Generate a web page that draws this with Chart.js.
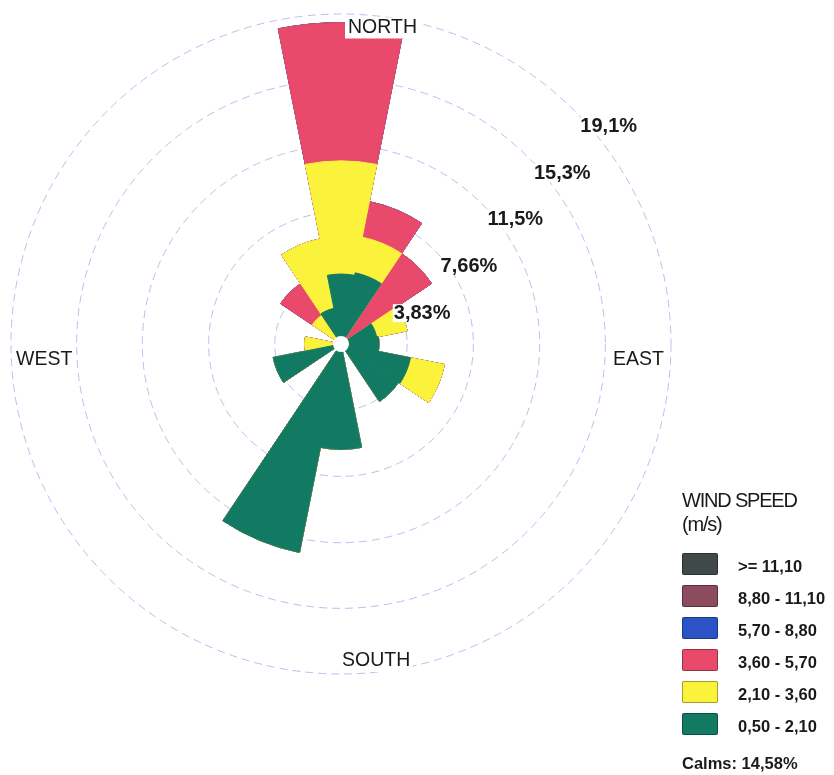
<!DOCTYPE html>
<html>
<head>
<meta charset="utf-8">
<script src="https://cdn.jsdelivr.net/npm/chart.js@4/dist/chart.umd.min.js"></script>
<style>
  html, body { margin: 0; padding: 0; background: #fff; }
  #wrap { position: relative; width: 834px; height: 775px; overflow: hidden; }
  #c { position: absolute; left: 0; top: 0; }
  .lg { position: absolute; font-family: "Liberation Sans", Arial, sans-serif; color: #1a1a1a; white-space: nowrap; }
  .title { font-size: 20px; line-height: 20px; letter-spacing: -1.2px; }
  .item { font-size: 16.5px; line-height: 16.5px; font-weight: bold; }
  .box { position: absolute; width: 34px; height: 20px; border: 1px solid rgba(0,0,0,0.35); border-radius: 2px; }
</style>
</head>
<body>
<div id="wrap">
  <canvas id="c" width="834" height="775"></canvas>
  <div id="legend"></div>
</div>
<script>
// ---- data (percent of time) ----
const directions = ['N','NNE','NE','ENE','E','ESE','SE','SSE','S','SSW','SW','WSW','W','WNW','NW','NNW'];
const speed_050_210 = [4.05, 4.2, 0, 2.1, 2.2, 4.1, 4.0, 0, 6.1, 12.3, 0, 4.0, 0.3, 0, 0.3, 2.1];
const speed_210_360 = [6.55, 2.1, 0, 1.8, 0, 2.0, 0, 0, 0, 0, 0, 0, 1.8, 0, 1.7, 4.1];
const speed_360_570 = [8.0, 2.1, 6.3, 0, 0, 0, 0, 0, 0, 0, 0, 0, 0, 0, 2.2, 0];
const speed_570_880 = [0, 0, 0, 0, 0, 0, 0, 0, 0, 0, 0, 0, 0, 0, 0, 0];
const speed_880_1110 = [0, 0, 0, 0, 0, 0, 0, 0, 0, 0, 0, 0, 0, 0, 0, 0];
const speed_ge_1110 = [0, 0, 0, 0, 0, 0, 0, 0, 0, 0, 0, 0, 0, 0, 0, 0];
const classLabels = ['0,50 - 2,10', '2,10 - 3,60', '3,60 - 5,70', '5,70 - 8,80', '8,80 - 11,10', '>= 11,10'];
const classColors = ['#127a62', '#fbf23c', '#e9496b', '#2b53c6', '#8c4b5e', '#3f4947'];
const ringValues = [3.83, 7.66, 11.5, 15.3, 19.1];
const ringLabels = ['3,83%', '7,66%', '11,5%', '15,3%', '19,1%'];
const compassLabels = ['NORTH', 'EAST', 'SOUTH', 'WEST'];
const legendTitle = ['WIND SPEED', '(m/s)'];
const calmsText = 'Calms: 14,58%';

// ---- build stacked (cumulative) datasets, low speed on top ----
const classSeries = [speed_050_210, speed_210_360, speed_360_570, speed_570_880, speed_880_1110, speed_ge_1110];
const cumulative = [];
classSeries.forEach((arr, k) => {
  cumulative.push(arr.map((v, i) => (k === 0 ? 0 : cumulative[k - 1][i]) + v));
});
const datasets = [];
for (let k = classSeries.length - 1; k >= 0; k--) {
  datasets.push({
    label: classLabels[k],
    data: cumulative[k],
    backgroundColor: classColors[k],
    borderColor: classColors[k],
    borderWidth: 1,
    order: k
  });
}

const FONT = '"Liberation Sans", Arial, sans-serif';

const rosePlugin = {
  id: 'roseLabels',
  afterDatasetsDraw(chart) {
    const s = chart.scales.r;
    const ctx = chart.ctx;
    const cx = s.xCenter, cy = s.yCenter;
    ctx.save();
    // calm hole
    ctx.fillStyle = '#fff';
    ctx.beginPath();
    ctx.arc(cx, cy, 8, 0, Math.PI * 2);
    ctx.fill();
    // ring labels along the NE diagonal
    ctx.font = 'bold 20px ' + FONT;
    ctx.textBaseline = 'middle';
    ctx.textAlign = 'left';
    ringValues.forEach((v, i) => {
      const d = s.getDistanceFromCenterForValue(v);
      const x = cx + d * Math.SQRT1_2 + 6;
      const y = cy - d * Math.SQRT1_2 + 16;
      const w = ctx.measureText(ringLabels[i]).width;
      ctx.fillStyle = '#fff';
      ctx.fillRect(x - 1, y - 9, w + 2, 18);
      ctx.fillStyle = '#1a1a1a';
      ctx.fillText(ringLabels[i], x, y);
    });
    // compass labels
    const R = s.getDistanceFromCenterForValue(s.max);
    ctx.font = '19.5px ' + FONT;
    const place = [
      { t: compassLabels[0], x: cx + 7, y: cy - R + 13.5, a: 'left' },
      { t: compassLabels[1], x: cx + R - 7, y: cy + 16, a: 'right' },
      { t: compassLabels[2], x: cx + 1, y: cy + R - 13, a: 'left' },
      { t: compassLabels[3], x: cx - R + 5, y: cy + 16, a: 'left' }
    ];
    place.forEach(p => {
      ctx.textAlign = p.a;
      const w = ctx.measureText(p.t).width;
      const x0 = p.a === 'left' ? p.x : p.x - w;
      ctx.fillStyle = '#fff';
      ctx.fillRect(x0 - 3, p.y - 10, w + 5, 21);
      ctx.fillStyle = '#1a1a1a';
      ctx.fillText(p.t, p.x, p.y);
    });
    ctx.restore();
  }
};

new Chart(document.getElementById('c'), {
  type: 'polarArea',
  data: { labels: directions, datasets: datasets },
  options: {
    responsive: false,
    animation: false,
    layout: { padding: { left: 11, top: 14, right: 163, bottom: 101 } },
    plugins: { legend: { display: false }, tooltip: { enabled: false } },
    scales: {
      r: {
        min: 0,
        max: ringValues[ringValues.length - 1],
        startAngle: -11.25,
        afterBuildTicks: (scale) => {
          scale.ticks = [0].concat(ringValues).map(v => ({ value: v }));
        },
        ticks: { display: false },
        pointLabels: { display: false },
        angleLines: { display: false },
        grid: { circular: true, color: 'rgba(140,150,225,0.6)', lineWidth: 1 },
        border: { dash: [8, 5] }
      }
    }
  },
  plugins: [rosePlugin]
});

// ---- HTML legend ----
const lg = document.getElementById('legend');
function addText(txt, cls, left, top) {
  const d = document.createElement('div');
  d.className = 'lg ' + cls;
  d.textContent = txt;
  d.style.left = left + 'px';
  d.style.top = top + 'px';
  lg.appendChild(d);
}
addText(legendTitle[0], 'title', 682, 489.5);
addText(legendTitle[1], 'title', 682, 513.5);
const order = [5, 4, 3, 2, 1, 0];
order.forEach((k, row) => {
  const top = 553 + row * 32;
  const b = document.createElement('div');
  b.className = 'box';
  b.style.left = '682px';
  b.style.top = top + 'px';
  b.style.background = classColors[k];
  lg.appendChild(b);
  addText(classLabels[k], 'item', 738, top + 5);
});
addText(calmsText, 'item', 682, 755);
</script>
</body>
</html>
